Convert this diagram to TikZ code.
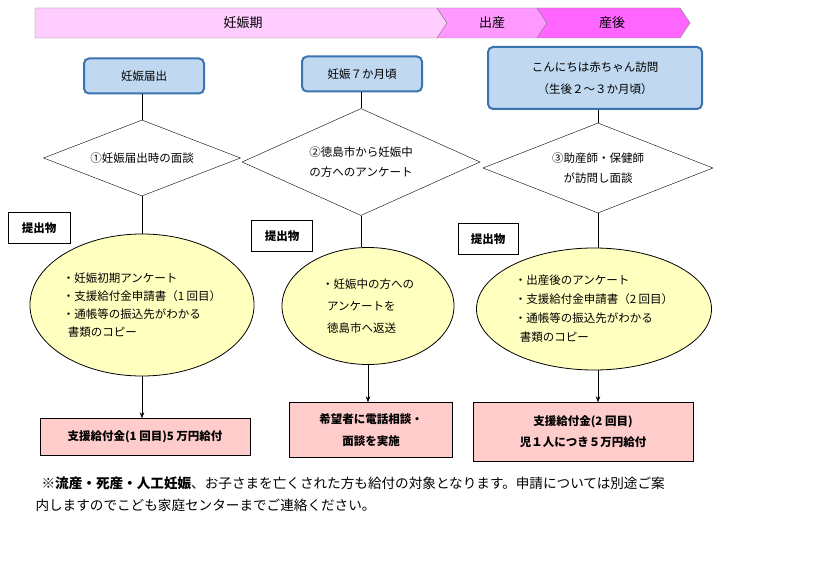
\documentclass[tikz,border=0pt]{standalone}
\usepackage{fontspec}
\setmainfont{Noto Sans CJK JP}
\usetikzlibrary{shapes.geometric,arrows.meta}
\definecolor{b1}{HTML}{C0D8F0}\definecolor{b2}{HTML}{3A74B0}
\definecolor{yel}{HTML}{FFFFC0}\definecolor{pk}{HTML}{FFCCCC}
\begin{document}
\begin{tikzpicture}[x=1pt,y=-1pt,font=\fontsize{11.5}{13}\selectfont,
 top/.style={draw=b2,line width=2pt,fill=b1,rounded corners=5pt,align=center},
 dia/.style={draw,diamond,aspect=2.2,align=center,inner sep=0pt},
 ell/.style={draw,ellipse,fill=yel,line width=0.8pt,align=left,inner sep=0pt},
 sub/.style={draw,fill=white,font=\fontsize{11.5}{13}\selectfont\bfseries},
 res/.style={draw,fill=pk,font=\fontsize{11.5}{13}\selectfont\bfseries,align=center},
 ar/.style={-{Stealth[length=6pt]}}]
\useasboundingbox (0,0) rectangle (829,577);
% banner
\draw[draw=gray,fill={rgb,255:red,255;green,204;blue,255}] (35,8) -- (437,8) -- (447,23) -- (437,38) -- (35,38) -- cycle;
\draw[draw=gray,fill={rgb,255:red,255;green,153;blue,255}] (437,8) -- (537,8) -- (547,23) -- (537,38) -- (437,38) -- (447,23) -- cycle;
\draw[draw=gray,fill={rgb,255:red,255;green,102;blue,255}] (537,8) -- (680,8) -- (690,23) -- (680,38) -- (537,38) -- (547,23) -- cycle;
\node[font=\fontsize{13}{15}\selectfont] (p1) at (243,23) {妊娠期};
\node[font=\fontsize{13}{15}\selectfont] (p2) at (492,23) {出産};
\node[font=\fontsize{13}{15}\selectfont] (p3) at (612,23) {産後};
% column 1
\node[top,minimum width=120,minimum height=35] (t1) at (144,76) {妊娠届出};
\node[dia,minimum width=197,minimum height=76] (d1) at (142,158) {①妊娠届出時の面談};
\node[ell,minimum width=215,minimum height=142] (e1) at (142,305) {・妊娠初期アンケート\\[5pt]・支援給付金申請書（1 回目）\\[5pt]・通帳等の振込先がわかる\\[5pt]\ \ 書類のコピー};
\node[sub,minimum width=62,minimum height=31] (s1) at (39,228) {提出物};
\node[res,minimum width=210,minimum height=37] (r1) at (145,437) {支援給付金(1 回目)5 万円給付};
\draw (t1.south -| d1) -- (d1.north); \draw (d1.south) -- (e1.north -| d1); \draw[ar] (e1.south -| d1) -- (r1.north -| d1);
% column 2
\node[top,minimum width=120,minimum height=35] (t2) at (362,74) {妊娠７か月頃};
\node[dia,minimum width=238,minimum height=107] (d2) at (361,162) {②徳島市から妊娠中\\[7pt]の方へのアンケート};
\node[ell,minimum width=172,minimum height=117] (e2) at (368,306) {・妊娠中の方への\\[9pt]\ \ アンケートを\\[9pt]\ \ 徳島市へ返送};
\node[sub,minimum width=61,minimum height=31] (s2) at (282,236) {提出物};
\node[res,minimum width=163,minimum height=55] (r2) at (371,430) {希望者に電話相談・\\[9pt]面談を実施};
\draw (t2.south -| d2) -- (d2.north); \draw (d2.south) -- (d2.south |- e2.north); \draw[ar] (e2.south) -- (r2.north -| e2);
% column 3
\node[top,minimum width=214,minimum height=62] (t3) at (595,78) {こんにちは赤ちゃん訪問\\[9pt]（生後２～３か月頃）};
\node[dia,minimum width=230,minimum height=90] (d3) at (598,168) {③助産師・保健師\\[7pt]が訪問し面談};
\node[ell,minimum width=235,minimum height=122] (e3) at (594,309) {・出産後のアンケート\\[6pt]・支援給付金申請書（2 回目）\\[6pt]・通帳等の振込先がわかる\\[6pt]\ \ 書類のコピー};
\node[sub,minimum width=60,minimum height=31] (s3) at (488,239) {提出物};
\node[res,minimum width=220,minimum height=59] (r3) at (583,432) {支援給付金(2 回目)\\[8pt]児１人につき５万円給付};
\draw (t3.south -| d3) -- (d3.north); \draw (d3.south) -- (d3.south |- e3.north); \draw[ar] (e3.south -| d3) -- (r3.north -| d3);
% footnote
\node[anchor=west,align=left,font=\fontsize{13.6}{22}\selectfont] (fn) at (32,494) {\ \ \textbf{※流産・死産・人工妊娠}、お子さまを亡くされた方も給付の対象となります。申請については別途ご案\\内しますのでこども家庭センターまでご連絡ください。};
\end{tikzpicture}
\end{document}
